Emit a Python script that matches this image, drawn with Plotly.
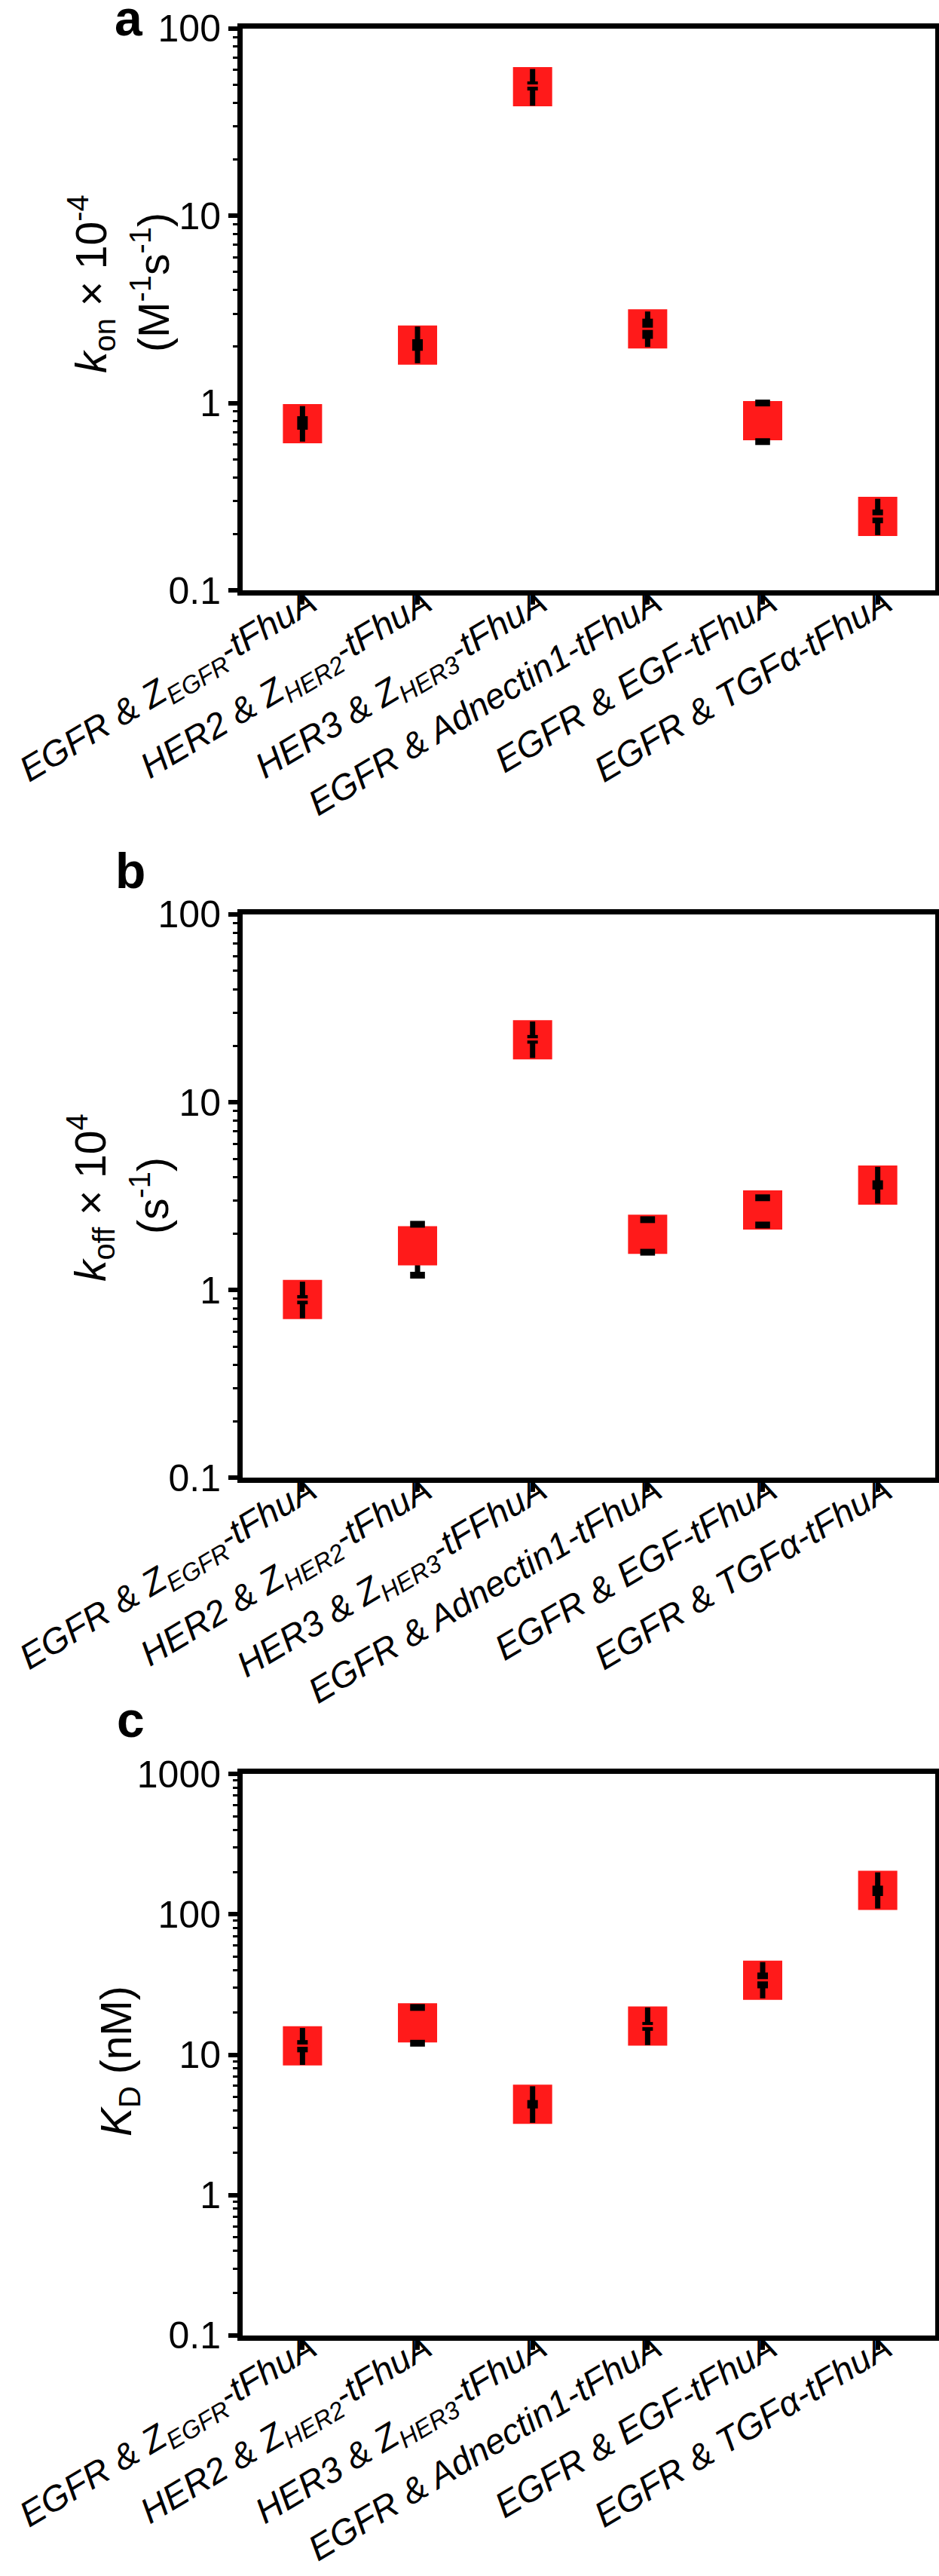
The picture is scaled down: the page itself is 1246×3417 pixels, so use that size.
import plotly.graph_objects as go

# ---------------- data ----------------
labels_ac = ["EGFR & Z<sub>EGFR</sub>-tFhuA", "HER2 & Z<sub>HER2</sub>-tFhuA", "HER3 & Z<sub>HER3</sub>-tFhuA",
             "EGFR & Adnectin1-tFhuA", "EGFR & EGF-tFhuA", "EGFR & TGFα-tFhuA"]
labels_b = ["EGFR & Z<sub>EGFR</sub>-tFhuA", "HER2 & Z<sub>HER2</sub>-tFhuA", "HER3 & Z<sub>HER3</sub>-tFFhuA",
            "EGFR & Adnectin1-tFhuA", "EGFR & EGF-tFhuA", "EGFR & TGFα-tFhuA"]
positions = [1, 2, 3, 4, 5, 6]

# panel a: kon x 1e-4 (M-1 s-1)
kon_center = [0.775, 2.04, 48.9, 2.49, 0.805, 0.248]
kon_lo = [0.622, 1.63, 38.7, 1.99, 0.622, 0.197]
kon_hi = [0.963, 2.56, 60.8, 3.08, 1.00, 0.308]
kon_qlo = [0.72, 1.90, 46.6, 2.20, None, 0.228]
kon_qhi = [0.85, 2.19, 52.1, 2.82, None, 0.270]
kon_median = [None, None, 49.5, 2.49, None, 0.248]
kon_on_top = [True, True, True, True, False, True]

# panel b: koff x 1e4 (s-1)
koff_center = [0.89, 1.72, 21.5, 1.98, 2.67, 3.62]
koff_lo = [0.708, 1.20, 17.2, 1.59, 2.22, 2.89]
koff_hi = [1.108, 2.24, 26.9, 2.37, 3.10, 4.53]
koff_qlo = [0.84, None, 20.5, None, None, 3.43]
koff_qhi = [0.94, None, 22.8, None, None, 3.84]
koff_median = [0.89, None, 21.6, None, None, None]
koff_on_top = [True, False, True, False, False, True]

# panel c: KD (nM)
kd_center = [11.56, 16.85, 4.43, 16.0, 33.9, 148]
kd_lo = [8.46, 12.07, 3.27, 11.7, 25.2, 110]
kd_hi = [15.5, 21.7, 5.96, 21.7, 45.7, 199]
kd_qlo = [10.4, None, 4.14, 14.8, 29.7, 135]
kd_qhi = [12.7, None, 4.75, 17.1, 38.5, 160]
kd_median = [11.6, None, None, 16.0, 33.9, None]
kd_on_top = [True, False, True, True, True, True]

RED = "#ff1a1a"
W, H = 1246, 3417
FONT = "Arial, Liberation Sans, sans-serif"


def px_x(p):
    return p / W


def px_y(p):
    return 1 - p / H


fig = go.Figure()


def add_panel(xa, ya, center, lo, hi, qlo, qhi, median, on_top):
    ax = dict(xaxis=xa, yaxis=ya, showlegend=False, hoverinfo="skip")
    # whiskers under the red squares (all points)
    fig.add_trace(go.Scatter(
        x=positions, y=center, mode="markers",
        marker=dict(size=1, color="rgba(0,0,0,0)"),
        error_y=dict(type="data", symmetric=False,
                     array=[h - c for h, c in zip(hi, center)],
                     arrayminus=[c - l for c, l in zip(center, lo)],
                     color="black", thickness=7, width=0),
        **ax))
    # red square markers
    fig.add_trace(go.Scatter(
        x=positions, y=center, mode="markers",
        marker=dict(symbol="square", size=52, color=RED, line=dict(width=0)),
        **ax))
    # whiskers drawn on top for the visible ones
    xs, ys, ep, em = [], [], [], []
    for x, c, l, h, t in zip(positions, center, lo, hi, on_top):
        if t:
            xs.append(x); ys.append(c); ep.append(h - c); em.append(c - l)
    fig.add_trace(go.Scatter(
        x=xs, y=ys, mode="markers",
        marker=dict(size=1, color="rgba(0,0,0,0)"),
        error_y=dict(type="data", symmetric=False, array=ep, arrayminus=em,
                     color="black", thickness=7, width=0),
        **ax))
    # inner black boxes
    xs, ys, ep, em = [], [], [], []
    for x, c, a, b in zip(positions, center, qlo, qhi):
        if a is not None:
            xs.append(x); ys.append(c); ep.append(b - c); em.append(c - a)
    fig.add_trace(go.Scatter(
        x=xs, y=ys, mode="markers",
        marker=dict(size=1, color="rgba(0,0,0,0)"),
        error_y=dict(type="data", symmetric=False, array=ep, arrayminus=em,
                     color="black", thickness=14, width=0),
        **ax))
    # median lines
    xs, ys = [], []
    for x, m in zip(positions, median):
        if m is not None:
            xs.append(x); ys.append(m)
    fig.add_trace(go.Scatter(
        x=xs, y=ys, mode="markers",
        marker=dict(symbol="line-ew", size=14, line=dict(width=3, color=RED)),
        **ax))
    # end markers for points whose whiskers are hidden
    xs, ys = [], []
    for x, l, h, t in zip(positions, lo, hi, on_top):
        if not t:
            xs += [x, x]; ys += [l, h]
    fig.add_trace(go.Scatter(
        x=xs, y=ys, mode="markers",
        marker=dict(symbol="line-ew", size=14, line=dict(width=9, color="black")),
        **ax))


add_panel("x", "y", kon_center, kon_lo, kon_hi, kon_qlo, kon_qhi, kon_median, kon_on_top)
add_panel("x2", "y2", koff_center, koff_lo, koff_hi, koff_qlo, koff_qhi, koff_median, koff_on_top)
add_panel("x3", "y3", kd_center, kd_lo, kd_hi, kd_qlo, kd_qhi, kd_median, kd_on_top)


def minor_vals(k0, k1):
    return [m * 10 ** k for k in range(k0, k1) for m in range(2, 10)]


def yaxis(domain, rng, vals, texts, anchor):
    return dict(
        type="log", range=rng, domain=domain, anchor=anchor, automargin=False,
        tickvals=vals, ticktext=texts,
        ticks="outside", ticklen=12, tickwidth=6, tickcolor="black",
        showline=True, linewidth=7, linecolor="black", mirror=True,
        showgrid=False, zeroline=False,
        tickfont=dict(family=FONT, size=50, color="black"),
        minor=dict(tickvals=minor_vals(int(rng[0]), int(rng[1])), ticks="outside",
                   ticklen=6, tickwidth=3, tickcolor="black", showgrid=False),
    )


def xaxis(texts, anchor):
    return dict(
        domain=[px_x(322), px_x(1241)], range=[0.48, 6.5], anchor=anchor, automargin=False,
        tickvals=positions, ticktext=texts, tickangle=-31,
        ticks="outside", ticklen=12, tickwidth=6, tickcolor="black",
        ticklabeloverflow="allow", ticklabelstandoff=-48, ticklabelshift=10,
        showline=True, linewidth=7, linecolor="black", mirror=True,
        showgrid=False, zeroline=False,
        tickfont=dict(family=FONT, size=47, color="black", style="italic"),
    )


fig.update_layout(
    template="none",
    width=W, height=H, autosize=False,
    margin=dict(l=0, r=0, t=0, b=0, pad=0),
    paper_bgcolor="white", plot_bgcolor="white",
    showlegend=False,
    xaxis=xaxis(labels_ac, "y"),
    xaxis2=xaxis(labels_b, "y2"),
    xaxis3=xaxis(labels_ac, "y3"),
    yaxis=yaxis([px_y(783), px_y(37.7)], [-1, 2], [0.1, 1, 10, 100], ["0.1", "1", "10", "100"], "x"),
    yaxis2=yaxis([px_y(1960.4), px_y(1212.9)], [-1, 2], [0.1, 1, 10, 100], ["0.1", "1", "10", "100"], "x2"),
    yaxis3=yaxis([px_y(3097.9), px_y(2353.1)], [-1, 3], [0.1, 1, 10, 100, 1000],
                 ["0.1", "1", "10", "100", "1000"], "x3"),
)

title_font = dict(family=FONT, size=57, color="black")
letter_font = dict(family=FONT, size=66, color="black")
annos = [
    dict(text="<b>a</b>", x=px_x(171), y=px_y(24), font=letter_font),
    dict(text="<b>b</b>", x=px_x(173), y=px_y(1155), font=letter_font),
    dict(text="<b>c</b>", x=px_x(173), y=px_y(2281), font=letter_font),
    dict(text="<i>k</i><sub>on</sub> × 10<sup>-4</sup>",
         x=px_x(121), y=px_y(377), textangle=-90, font=title_font),
    dict(text="(M<sup>-1</sup>s<sup>-1</sup>)",
         x=px_x(200), y=px_y(375), textangle=-90, font=title_font),
    dict(text="<i>k</i><sub>off</sub> × 10<sup>4</sup>",
         x=px_x(120), y=px_y(1589), textangle=-90, font=title_font),
    dict(text="(s<sup>-1</sup>)",
         x=px_x(199), y=px_y(1586), textangle=-90, font=title_font),
    dict(text="<i>K</i><sub>D</sub> (nM)",
         x=px_x(158), y=px_y(2734), textangle=-90, font=title_font),
]
for a in annos:
    fig.add_annotation(xref="paper", yref="paper", showarrow=False,
                       xanchor="center", yanchor="middle", **a)

fig.write_html("out.html")
